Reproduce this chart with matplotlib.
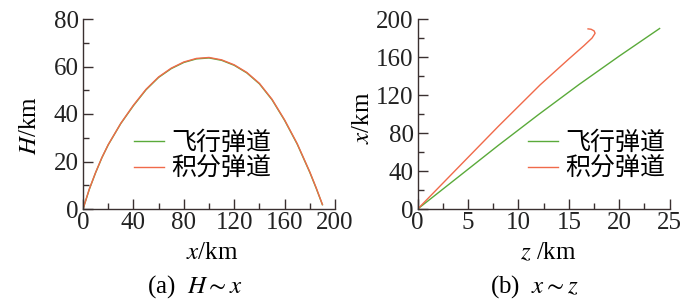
import numpy as np
import matplotlib.pyplot as plt
from matplotlib.ticker import MultipleLocator

plt.rcParams['font.family'] = ['Liberation Serif', 'Noto Sans CJK SC']
plt.rcParams['mathtext.fontset'] = 'stix'

### (a) H ~ x
x_a = [0, 5, 10, 15, 20, 30, 40, 50, 60, 70, 80, 90, 100, 110, 120, 130, 140, 150, 160, 170, 180, 185, 190]
h_fly = [0, 8.3, 15.3, 21.6, 27.0, 36.0, 43.5, 50.2, 55.4, 59.1, 61.7, 63.2, 63.6, 62.6, 60.5, 57.3, 52.7, 46.0, 37.3, 27.3, 15.4, 8.8, 1.8]
h_int = [0, 8.4, 15.4, 21.7, 27.1, 36.1, 43.7, 50.4, 55.6, 59.3, 61.9, 63.4, 63.8, 62.8, 60.7, 57.5, 52.9, 46.2, 37.5, 27.5, 15.6, 9.0, 1.9]

### (b) x ~ z
z_fly = [0, 4, 8, 12, 16, 20, 24]
x_fly = [0, 33.5, 67, 99.5, 131, 161, 190]
z_int = [0, 4, 8, 12.15, 15.0, 16.5, 17.3, 17.6, 17.5, 17.2, 16.9]
x_int = [0, 43.5, 87, 130.7, 158, 172, 180, 185, 187.5, 189.2, 189.6]

labels = ['飞行弹道', '积分弹道']
green = '#5aaa3a'
orange = '#f06a4a'
axcol = '#3a3030'
fs = 18

fig = plt.figure(figsize=(7, 3.04), dpi=100)
ax1 = fig.add_axes([0.1186, 0.3125, 0.36, 0.625])
ax2 = fig.add_axes([0.5967, 0.3125, 0.36, 0.625])


def style(ax):
    for s in ['top', 'right']:
        ax.spines[s].set_visible(False)
    for s in ['left', 'bottom']:
        ax.spines[s].set_color(axcol)
        ax.spines[s].set_linewidth(1.0)
    ax.tick_params(which='both', direction='in', colors=axcol, labelcolor='#222222', labelsize=fs)
    ax.tick_params(which='major', length=7, width=1)
    ax.tick_params(which='minor', length=4, width=1)
    ax.tick_params(axis='x', pad=2)
    ax.tick_params(axis='y', pad=3)


ax1.plot(x_a, h_fly, color=green, lw=1.0, label=labels[0])
ax1.plot(x_a, h_int, color=orange, lw=1.0, label=labels[1])
ax1.set_xlim(0, 200)
ax1.set_ylim(0, 80)
ax1.xaxis.set_major_locator(MultipleLocator(40))
ax1.xaxis.set_minor_locator(MultipleLocator(20))
ax1.yaxis.set_major_locator(MultipleLocator(20))
ax1.yaxis.set_minor_locator(MultipleLocator(10))
style(ax1)
ax1.set_xlabel('$x$/km', fontsize=fs, va='center')
ax1.set_ylabel('$H$/km', fontsize=fs, va='center')
ax1.xaxis.set_label_coords(0.512, -0.23)
ax1.yaxis.set_label_coords(-0.21, 0.44)
ax1.legend(loc='center', bbox_to_anchor=(0.475, 0.28), frameon=False, fontsize=fs,
           handlelength=1.2, handletextpad=0.3, labelspacing=0.12, borderpad=0)

ax2.plot(z_fly, x_fly, color=green, lw=1.0, label=labels[0])
ax2.plot(z_int, x_int, color=orange, lw=1.0, label=labels[1])
ax2.set_xlim(0, 25)
ax2.set_ylim(0, 200)
ax2.xaxis.set_major_locator(MultipleLocator(5))
ax2.xaxis.set_minor_locator(MultipleLocator(2.5))
ax2.yaxis.set_major_locator(MultipleLocator(40))
ax2.yaxis.set_minor_locator(MultipleLocator(20))
style(ax2)
ax2.set_xlabel('$z$ /km', fontsize=fs, va='center')
ax2.set_ylabel('$x$/km', fontsize=fs, va='center')
ax2.xaxis.set_label_coords(0.517, -0.23)
ax2.yaxis.set_label_coords(-0.217, 0.48)
ax2.legend(loc='center', bbox_to_anchor=(0.71, 0.28), frameon=False, fontsize=fs,
           handlelength=1.2, handletextpad=0.3, labelspacing=0.12, borderpad=0)

fig.text(0.278, 0.056, '(a)  $H\\sim x$', ha='center', va='center', fontsize=fs)
fig.text(0.763, 0.056, '(b)  $x\\sim z$', ha='center', va='center', fontsize=fs)

fig.savefig('out.png', dpi=100)
